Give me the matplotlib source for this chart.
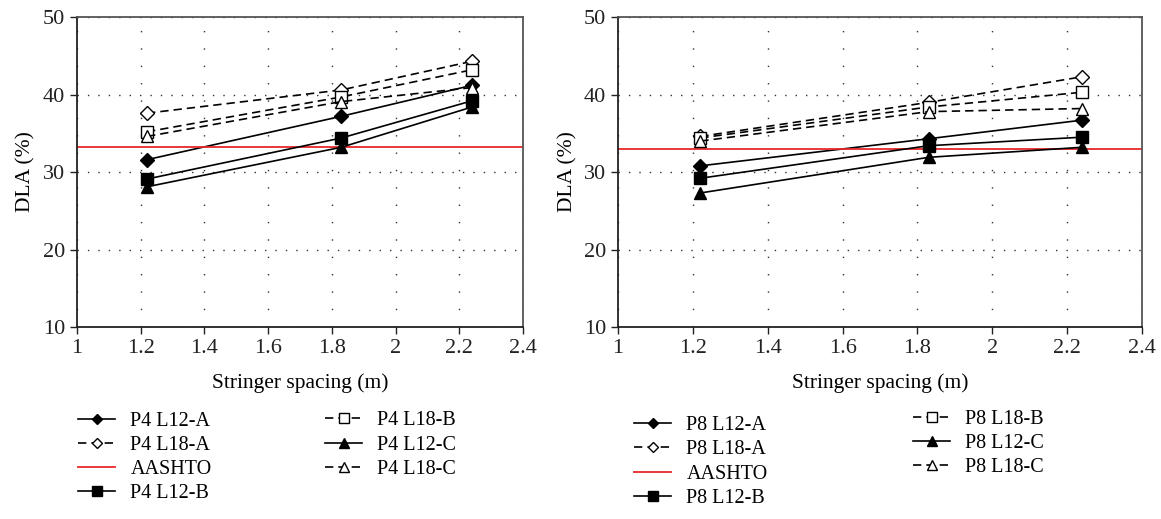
import matplotlib
matplotlib.use("Agg")
import matplotlib.pyplot as plt

plt.rcParams["font.family"] = ["Liberation Serif", "DejaVu Serif"]
plt.rcParams["font.size"] = 14

spacing = [1.22, 1.83, 2.24]

# panel 1: P4
p4_l12_a = [31.6, 37.2, 41.2]
p4_l18_a = [37.6, 40.6, 44.3]
p4_l12_b = [29.1, 34.4, 39.2]
p4_l18_b = [35.2, 39.7, 43.2]
p4_l12_c = [28.1, 33.2, 38.4]
p4_l18_c = [34.6, 39.1, 40.9]
p4_aashto = 33.2

# panel 2: P8
p8_l12_a = [30.8, 34.3, 36.7]
p8_l18_a = [34.6, 39.0, 42.3]
p8_l12_b = [29.2, 33.4, 34.5]
p8_l18_b = [34.4, 38.4, 40.3]
p8_l12_c = [27.3, 31.9, 33.2]
p8_l18_c = [34.0, 37.8, 38.2]
p8_aashto = 33.0

x_ticks = [1, 1.2, 1.4, 1.6, 1.8, 2, 2.2, 2.4]
x_ticklabels = ["1", "1.2", "1.4", "1.6", "1.8", "2", "2.2", "2.4"]
y_ticks = [10, 20, 30, 40, 50]


def draw_panel(ax, prefix, series, aashto):
    l12a, l18a, l12b, l18b, l12c, l18c = series
    solid = dict(color="black", lw=1.2, linestyle="-")
    dash = dict(color="black", lw=1.2, linestyle=(0, (5, 3)))
    ax.plot(spacing, l12a, marker="D", ms=7, mfc="black", mec="black",
            label=f"{prefix} L12-A", **solid)
    ax.plot(spacing, l18a, marker="D", ms=7, mfc="white", mec="black",
            label=f"{prefix} L18-A", **dash)
    ax.axhline(aashto, color="#e8262a", lw=1.3, label="AASHTO")
    ax.plot(spacing, l12b, marker="s", ms=9, mfc="black", mec="black",
            label=f"{prefix} L12-B", **solid)
    ax.plot(spacing, l18b, marker="s", ms=9, mfc="white", mec="black",
            label=f"{prefix} L18-B", **dash)
    ax.plot(spacing, l12c, marker="^", ms=9, mfc="black", mec="black",
            label=f"{prefix} L12-C", **solid)
    ax.plot(spacing, l18c, marker="^", ms=9, mfc="white", mec="black",
            label=f"{prefix} L18-C", **dash)

    ax.set_xlim(1, 2.4)
    ax.set_ylim(10, 50)
    ax.set_xticks(x_ticks)
    ax.set_xticklabels(x_ticklabels)
    ax.set_yticks(y_ticks)
    ax.grid(True, axis="y", color="#333333", linestyle=(0, (1, 6.5)), lw=1.0)
    ax.grid(True, axis="x", color="#333333", linestyle=(0, (1, 11.5)), lw=1.0)
    ax.tick_params(direction="out", length=5, width=1, colors="#222222",
                   labelsize=16)
    for s in ["left", "bottom"]:
        ax.spines[s].set_color("#222222")
        ax.spines[s].set_linewidth(1.3)
    for s in ["top", "right"]:
        ax.spines[s].set_color("#555555")
        ax.spines[s].set_linewidth(1.3)
    ax.set_xlabel("Stringer spacing (m)", fontsize=15.5, labelpad=11)
    ax.set_ylabel("DLA (%)", fontsize=15.5, labelpad=5)
    return ax


fig = plt.figure(figsize=(11.61, 5.19), dpi=100)
ax1 = fig.add_axes([0.0663, 0.370, 0.3842, 0.597])
ax2 = fig.add_axes([0.5323, 0.370, 0.4513, 0.597])

draw_panel(ax1, "P4", [p4_l12_a, p4_l18_a, p4_l12_b, p4_l18_b, p4_l12_c, p4_l18_c], p4_aashto)
draw_panel(ax2, "P8", [p8_l12_a, p8_l18_a, p8_l12_b, p8_l18_b, p8_l12_c, p8_l18_c], p8_aashto)

leg_kw = dict(loc="center left", frameon=False, fontsize=14.5,
              handlelength=1.85, handletextpad=0.75, labelspacing=0.25,
              borderpad=0, borderaxespad=0, markerscale=0.75)

# legend columns: (axes, first index, last index, x of handle, y centre)
columns = [
    (ax1, 0, 4, 78 / 1161, 1 - 457.5 / 519),
    (ax1, 4, 7, 325 / 1161, 1 - 445 / 519),
    (ax2, 0, 4, 634 / 1161, 1 - 462 / 519),
    (ax2, 4, 7, 913 / 1161, 1 - 443.5 / 519),
]
for ax, i0, i1, xa, ya in columns:
    h, l = ax.get_legend_handles_labels()
    fig.legend(h[i0:i1], l[i0:i1], bbox_to_anchor=(xa, ya), **leg_kw)

fig.savefig("out.png", dpi=100)
